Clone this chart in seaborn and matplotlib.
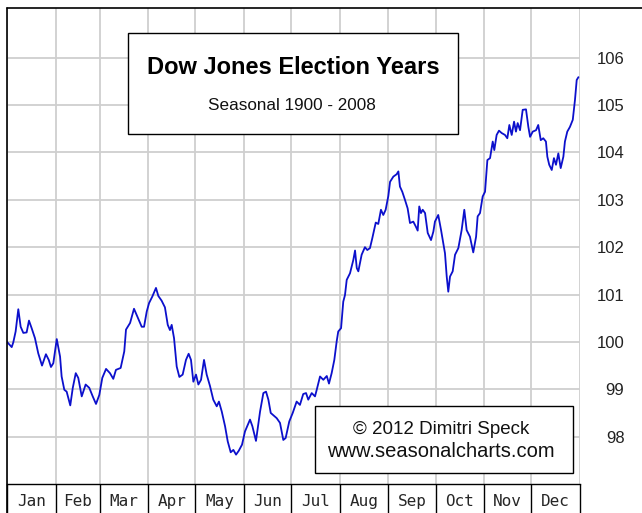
import numpy as np
import matplotlib.pyplot as plt
import pandas as pd
import seaborn as sns
from matplotlib.patches import Rectangle
from matplotlib.lines import Line2D

sns.set_style("white")
plt.rcParams['font.family'] = ['Liberation Sans', 'DejaVu Sans']

months = ["Jan", "Feb", "Mar", "Apr", "May", "Jun", "Jul", "Aug", "Sep", "Oct", "Nov", "Dec"]
month_days = [31, 28, 31, 30, 31, 30, 31, 31, 30, 31, 30, 31]
y_ticks = [98, 99, 100, 101, 102, 103, 104, 105, 106]

# day of year / seasonal index
day = [0, 3, 4, 5.5, 7.2, 8.7, 10.4, 12.5, 14, 15.7,
       17.8, 19.9, 22.3, 24.8, 26.6, 28, 29.5, 31.7, 33.8, 34.8,
       36.5, 38, 40.3, 41.9, 43.8, 45.4, 47.6, 50.1, 52.4, 54.6,
       56.7, 58.8, 60.7, 63.1, 65.6, 67.7, 69.4, 72.4, 74.7, 75.8,
       78.4, 80.9, 82.6, 85.8, 87.3, 89, 90.5, 92.6, 94.9, 96.4,
       98.5, 100.6, 102.4, 103.8, 104.9, 106.4, 108.1, 109.8, 111.9, 114,
       115.7, 117.2, 118.7, 120.4, 121.9, 123.6, 125.5, 127.2, 129.3, 131.4,
       133.6, 135, 136.8, 138.9, 140.6, 142.5, 144.2, 145.9, 147.6, 149.7,
       151.6, 154.8, 156.3, 158.6, 161.2, 163.3, 165, 166.5, 168, 171.8,
       173.9, 176, 177.5, 179.8, 182, 184.5, 186.6, 188.7, 190.5, 191.9,
       194.1, 196.2, 197.3, 199.4, 201.5, 203.7, 205.1, 206.8, 208.5, 210,
       211, 212.8, 214.2, 215.3, 216.4, 218.5, 220.6, 221.7, 222.8, 223.8,
       225.9, 228, 229.5, 231.2, 232.7, 234.9, 236.5, 238.2, 239.7, 241.2,
       242.9, 244, 246.1, 248.2, 249.3, 250.3, 251.8, 253.5, 255.2, 256.7,
       258.8, 260.5, 261.6, 262.6, 263.7, 264.8, 266.3, 268, 270.1, 271.6,
       272.6, 274.7, 276.5, 279, 280.1, 281.1, 282.2, 283.9, 285.4, 287.5,
       289.6, 291.3, 292.8, 294.9, 297, 298.8, 299.8, 301.3, 303, 304.5,
       306, 307.7, 309.4, 310.4, 311.9, 313.4, 315.1, 317.2, 318.7, 320,
       321.5, 323, 324.2, 325.3, 326.8, 328.5, 330.6, 332.1, 333.2, 334.9,
       337, 338.4, 340, 341.6, 343.3, 344.2, 345.4, 347, 348.4, 349.7,
       351.2, 352.7, 354.4, 355.4, 356.9, 358.6, 360.4, 361.8, 362.9, 364]

dow = [100.0, 99.89, 99.99, 100.22, 100.69, 100.32, 100.19, 100.2, 100.45, 100.29,
       100.08, 99.76, 99.5, 99.74, 99.62, 99.47, 99.55, 100.06, 99.69, 99.27,
       98.99, 98.95, 98.66, 99.03, 99.34, 99.24, 98.85, 99.1, 99.03, 98.85,
       98.69, 98.88, 99.24, 99.43, 99.34, 99.22, 99.41, 99.45, 99.8, 100.26,
       100.4, 100.7, 100.57, 100.32, 100.32, 100.64, 100.82, 100.96, 101.14, 100.97,
       100.87, 100.73, 100.36, 100.25, 100.36, 100.08, 99.48, 99.26, 99.31, 99.62,
       99.75, 99.62, 99.16, 99.31, 99.1, 99.2, 99.62, 99.31, 99.07, 98.78,
       98.64, 98.74, 98.53, 98.22, 97.9, 97.67, 97.72, 97.62, 97.7, 97.83,
       98.11, 98.36, 98.22, 97.91, 98.53, 98.92, 98.95, 98.78, 98.5, 98.39,
       98.29, 97.93, 97.97, 98.32, 98.5, 98.74, 98.67, 98.9, 98.92, 98.78,
       98.92, 98.85, 98.99, 99.27, 99.2, 99.28, 99.12, 99.34, 99.62, 100.01,
       100.22, 100.29, 100.85, 100.99, 101.31, 101.45, 101.73, 101.93, 101.56, 101.49,
       101.84, 102.0, 101.94, 101.98, 102.19, 102.52, 102.49, 102.79, 102.68, 102.79,
       103.08, 103.38, 103.49, 103.54, 103.6, 103.28, 103.17, 103.0, 102.82, 102.51,
       102.54, 102.43, 102.35, 102.86, 102.72, 102.79, 102.72, 102.3, 102.15, 102.33,
       102.54, 102.68, 102.36, 101.87, 101.38, 101.06, 101.38, 101.49, 101.84, 101.98,
       102.36, 102.79, 102.36, 102.22, 101.89, 102.22, 102.65, 102.72, 103.07, 103.17,
       103.84, 103.88, 104.23, 104.05, 104.37, 104.46, 104.41, 104.37, 104.3, 104.58,
       104.37, 104.65, 104.44, 104.62, 104.47, 104.9, 104.91, 104.54, 104.33, 104.44,
       104.47, 104.58, 104.26, 104.3, 104.23, 103.91, 103.74, 103.63, 103.88, 103.74,
       103.98, 103.67, 103.91, 104.23, 104.44, 104.54, 104.69, 105.11, 105.53, 105.59]

bounds = np.concatenate([[0], np.cumsum(month_days)])
mids = (bounds[:-1] + bounds[1:]) / 2

W, H = 642, 513
fig = plt.figure(figsize=(W / 100, H / 100), dpi=100)
ax = fig.add_axes([7 / W, 29 / H, 573 / W, 476 / H])

df = pd.DataFrame({"day": day, "dow": dow})
sns.lineplot(data=df, x="day", y="dow", color="#0c10cc", linewidth=1.3, ax=ax)

ax.set_xlim(0, 365)
ax.set_ylim(97.0, 107.05)
ax.set_xlabel("")
ax.set_ylabel("")

# grid: month boundaries + integer levels
ax.set_xticks(bounds, minor=True)
ax.set_xticks(mids)
ax.set_xticklabels(months, family="DejaVu Sans Mono", fontsize=11.5)
ax.set_yticks(y_ticks)
ax.yaxis.tick_right()
ax.tick_params(axis='x', which='both', length=0, pad=15.5)
ax.tick_params(axis='y', length=0, pad=32, labelsize=12, labelcolor="#222222")
ax.grid(False)
ax.grid(which='minor', axis='x', color="#cfcfcf", lw=1.3)
ax.grid(which='major', axis='y', color="#cfcfcf", lw=1.3)
ax.set_axisbelow(True)
plt.setp(ax.get_yticklabels(), ha='right')
plt.setp(ax.get_xticklabels(), va='baseline')

for s in ["top", "right", "left"]:
    ax.spines[s].set_visible(False)
ax.spines["bottom"].set_color("black")
ax.spines["bottom"].set_linewidth(1.0)

# month separators below the axis
ax.vlines(bounds, -29 / 476, 0, transform=ax.get_xaxis_transform(), colors="black", lw=1.0, clip_on=False)

# outer frame: left and top
fig.add_artist(Line2D([7 / W, 7 / W], [0, (H - 8) / H], color="black", lw=1.2))
fig.add_artist(Line2D([7 / W, 1], [(H - 8) / H, (H - 8) / H], color="black", lw=1.2))

# title box
fig.add_artist(Rectangle((128 / W, (H - 134) / H), 330 / W, 101 / H, transform=fig.transFigure,
                         fc="white", ec="black", lw=1.0))
fig.text(293 / W, (H - 74.5) / H, "Dow Jones Election Years", ha="center", va="baseline",
         fontsize=17, weight="bold", color="black")
fig.text(292 / W, (H - 110.5) / H, "Seasonal 1900 - 2008", ha="center", va="baseline",
         fontsize=12.3, color="#111111")

# copyright box
fig.add_artist(Rectangle((315 / W, (H - 473) / H), 258 / W, 67 / H, transform=fig.transFigure,
                         fc="white", ec="black", lw=1.0))
fig.text(441 / W, (H - 434) / H, "© 2012 Dimitri Speck", ha="center", va="baseline",
         fontsize=13.5, color="#111111")
fig.text(441 / W, (H - 457) / H, "www.seasonalcharts.com", ha="center", va="baseline",
         fontsize=14.5, color="#111111")

fig.savefig("out.png", dpi=100, facecolor="white")
